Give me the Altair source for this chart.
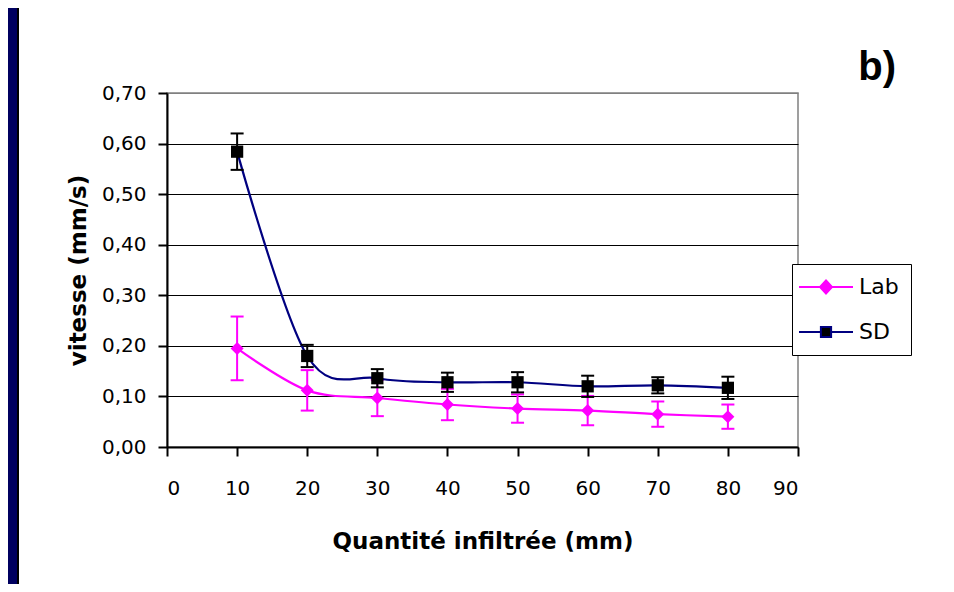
import altair as alt
import pandas as pd

# ---- data ----
x_values = [10, 20, 30, 40, 50, 60, 70, 80]
series_names = ["Lab", "SD"]
lab_values = [0.195, 0.112, 0.097, 0.084, 0.076, 0.072, 0.065, 0.060]
lab_errors = [0.063, 0.040, 0.036, 0.031, 0.028, 0.029, 0.025, 0.024]
sd_values = [0.584, 0.180, 0.136, 0.128, 0.128, 0.120, 0.122, 0.117]
sd_errors = [0.036, 0.022, 0.018, 0.019, 0.020, 0.021, 0.016, 0.022]
y_ticks = [0.0, 0.1, 0.2, 0.3, 0.4, 0.5, 0.6, 0.7]
x_ticks = [0, 10, 20, 30, 40, 50, 60, 70, 80, 90]
panel_label = ["b)"]

rows = []
for name, vals, errs in [("Lab", lab_values, lab_errors), ("SD", sd_values, sd_errors)]:
    for xv, v, e in zip(x_values, vals, errs):
        rows.append({"series": name, "x": xv, "y": v, "lo": v - e, "hi": v + e})
df = pd.DataFrame(rows)

W, H = 631, 354
PAD = {"left": 159, "top": 85, "right": 148, "bottom": 137}

x_scale = alt.Scale(domain=[0, 90], nice=False, zero=False)
y_scale = alt.Scale(domain=[0, 0.7], nice=False)

x_axis = alt.Axis(
    values=x_ticks, grid=False, title="Quantité infiltrée (mm)",
    labelFont="DejaVu Sans", labelFontSize=20, labelColor="black", labelPadding=22,
    tickSize=9, tickWidth=2, tickColor="black", domainColor="black", domainWidth=2,
    titleFont="DejaVu Sans", titleFontSize=23, titleFontWeight="bold", titleColor="black",
    titleX=W / 2, titleY=101, titleBaseline="alphabetic", titleAlign="center",
)
y_axis = alt.Axis(
    values=y_ticks, title="vitesse (mm/s)",
    labelExpr="replace(format(datum.value, '.2f'), '.', ',')",
    labelFont="DejaVu Sans", labelFontSize=20, labelColor="black", labelPadding=12,
    tickSize=9, tickWidth=2, tickColor="black", domainColor="black", domainWidth=2,
    grid=True, gridWidth=1,
    gridColor=alt.condition("datum.value > 0.65", alt.value("#808080"), alt.value("black")),
    titleFont="DejaVu Sans", titleFontSize=23, titleFontWeight="bold", titleColor="black",
    titleAngle=270, titleX=-89, titleY=H / 2, titleAlign="center", titleBaseline="middle",
)

def X():
    return alt.X("x:Q", scale=x_scale, axis=x_axis)

def Yf(field):
    return alt.Y(f"{field}:Q", scale=y_scale, axis=y_axis)

styles = {
    "Lab": {"line": "#FF00FF", "mark": "#FF00FF", "err": "#FF00FF", "shape": "diamond", "size": 169},
    "SD": {"line": "#000080", "mark": "#000000", "err": "#000000", "shape": "square", "size": 150},
}

layers = []

# dark frame band at left
band = alt.Chart(alt.Data(values=[{}])).mark_rect(color="#000060").encode(
    x=alt.value(-PAD["left"]), x2=alt.value(-PAD["left"] + 9),
    y=alt.value(-PAD["top"]), y2=alt.value(H + PAD["bottom"]))
band_edge = alt.Chart(alt.Data(values=[{}])).mark_rule(color="black", strokeWidth=2).encode(
    x=alt.value(-PAD["left"] + 10),
    y=alt.value(-PAD["top"]), y2=alt.value(H + PAD["bottom"]))
layers += [band, band_edge]

for name in series_names:
    st = styles[name]
    base = alt.Chart(df).transform_filter(alt.datum.series == name)
    line = base.mark_line(interpolate="cardinal", color=st["line"], strokeWidth=2.2).encode(
        x=X(), y=Yf("y"))
    rule = base.mark_rule(color=st["err"], strokeWidth=2).encode(
        x=X(), y=Yf("lo"), y2="hi:Q")
    cap_lo = base.mark_tick(orient="horizontal", color=st["err"], size=13, thickness=2, opacity=1).encode(
        x=X(), y=Yf("lo"))
    cap_hi = base.mark_tick(orient="horizontal", color=st["err"], size=13, thickness=2, opacity=1).encode(
        x=X(), y=Yf("hi"))
    pts = base.mark_point(filled=True, shape=st["shape"], size=st["size"], color=st["mark"],
                          opacity=1, strokeWidth=0).encode(x=X(), y=Yf("y"))
    layers += [line, rule, cap_lo, cap_hi, pts]

# panel label "b)"
label_layer = alt.Chart(pd.DataFrame({"t": panel_label})).mark_text(
    font="Liberation Sans", fontSize=40, fontWeight="bold", color="black",
    align="right", baseline="alphabetic").encode(
    text="t:N", x=alt.value(W + 98), y=alt.value(-13))
layers.append(label_layer)

# legend (line + marker symbols)
lab_path = "M-4.5,0L4.5,0M0,-1.1L1,0L0,1.1L-1,0Z"
sd_path = "M-4.5,0L-0.85,0M0.85,0L4.5,0M-0.85,-0.85L0.85,-0.85L0.85,0.85L-0.85,0.85Z"
leg = alt.Legend(title=None, orient="none", legendX=625, legendY=171)
legend_layer = alt.Chart(df).transform_filter("false").mark_point(
    filled=True, opacity=1, strokeWidth=2, size=144).encode(
    x=X(), y=Yf("y"),
    shape=alt.Shape("series:N", scale=alt.Scale(domain=series_names, range=[lab_path, sd_path]), legend=leg),
    fill=alt.Fill("series:N", scale=alt.Scale(domain=series_names, range=["#FF00FF", "#000000"]), legend=leg),
    stroke=alt.Stroke("series:N", scale=alt.Scale(domain=series_names, range=["#FF00FF", "#000080"]), legend=leg),
)
layers.append(legend_layer)

chart = alt.layer(*layers).properties(
    width=W, height=H,
    autosize=alt.AutoSizeParams(type="none"),
    padding=PAD,
    background="white",
).configure_view(stroke="#808080", strokeWidth=1.5).configure_legend(
    strokeColor="black", fillColor="white", padding=12, symbolOffset=11, labelOffset=22,
    labelFont="DejaVu Sans", labelFontSize=22, labelColor="black", rowPadding=23,
    symbolStrokeWidth=2, symbolSize=144, cornerRadius=0,
)

chart.save("out.html", embed_options={"renderer": "svg", "actions": False})
